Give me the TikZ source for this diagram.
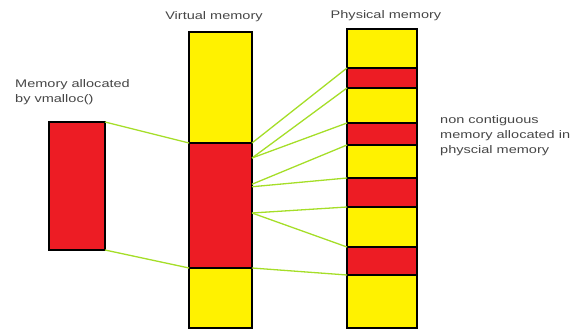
\documentclass[tikz,border=0pt]{standalone}
\usepackage{fontspec}
\setmainfont{Liberation Sans}
\usepackage{graphicx}
\usetikzlibrary{calc}
\definecolor{memyellow}{RGB}{255,242,0}
\definecolor{memred}{RGB}{237,28,36}
\definecolor{linkgreen}{RGB}{165,222,40}
\definecolor{labelgray}{RGB}{70,70,70}
\newcommand{\wide}[1]{\scalebox{1.32}[1]{#1}}
\begin{document}
\begin{tikzpicture}[x=1pt,y=-1pt,
  blk/.style={draw=black, line width=1.2pt, inner sep=0pt, outer sep=0pt, anchor=north west},
  yblk/.style={blk, fill=memyellow},
  rblk/.style={blk, fill=memred},
  lbl/.style={text=labelgray, inner sep=0pt, font=\fontsize{11}{15}\selectfont},
  link/.style={draw=linkgreen, line width=1.3pt}]
\useasboundingbox (0,0) rectangle (584,334);
% left block
\node[rblk, minimum width=56pt, minimum height=128pt] (alloc) at (49,122) {};
% virtual memory column
\node[yblk, minimum width=63pt, minimum height=111pt] (v1) at (189,32) {};
\node[yblk, minimum width=63pt, minimum height=60pt] (v3) at (189,268) {};
\node[rblk, minimum width=63pt, minimum height=125pt] (v2) at (189,143) {};
% physical memory column
\node[yblk, minimum width=70pt, minimum height=39pt] (p1) at (347,29) {};
\node[yblk, minimum width=70pt, minimum height=35pt] (p3) at (347,88) {};
\node[yblk, minimum width=70pt, minimum height=33pt] (p5) at (347,145) {};
\node[yblk, minimum width=70pt, minimum height=40pt] (p7) at (347,207) {};
\node[yblk, minimum width=70pt, minimum height=53pt] (p9) at (347,275) {};
\node[rblk, minimum width=70pt, minimum height=20pt] (r1) at (347,68) {};
\node[rblk, minimum width=70pt, minimum height=22pt] (r2) at (347,123) {};
\node[rblk, minimum width=70pt, minimum height=29pt] (r3) at (347,178) {};
\node[rblk, minimum width=70pt, minimum height=28pt] (r4) at (347,247) {};
% anchor points on the virtual red block
\coordinate (va) at ($(v2.north east)!0.12!(v2.south east)$);
\coordinate (vb) at ($(v2.north east)!0.33!(v2.south east)$);
\coordinate (vc) at ($(v2.north east)!0.35!(v2.south east)$);
\coordinate (vd) at ($(v2.north east)!0.56!(v2.south east)$);
% connectors
\draw[link] (alloc.north east) -- (v2.north west);
\draw[link] (alloc.south east) -- (v2.south west);
\draw[link] (v2.north east) -- (r1.north west);
\draw[link] (va) -- (r1.south west);
\draw[link] (va) -- (r2.north west);
\draw[link] (vb) -- (r2.south west);
\draw[link] (vc) -- (r3.north west);
\draw[link] (vd) -- (r3.south west);
\draw[link] (vd) -- (r4.north west);
\draw[link] (v2.south east) -- (r4.south west);
% labels
\node[lbl, anchor=base] (vt) at (214,20) {\wide{Virtual memory}};
\node[lbl, anchor=base] (pt) at (386,19) {\wide{Physical memory}};
\node[lbl, anchor=base west] (at) at (15,88) {\wide{\begin{tabular}[t]{@{}l@{}}Memory allocated\\by vmalloc()\end{tabular}}};
\node[lbl, anchor=base west] (nt) at (440,124) {\wide{\begin{tabular}[t]{@{}l@{}}non contiguous\\memory allocated in\\physcial memory\end{tabular}}};
\end{tikzpicture}
\end{document}
